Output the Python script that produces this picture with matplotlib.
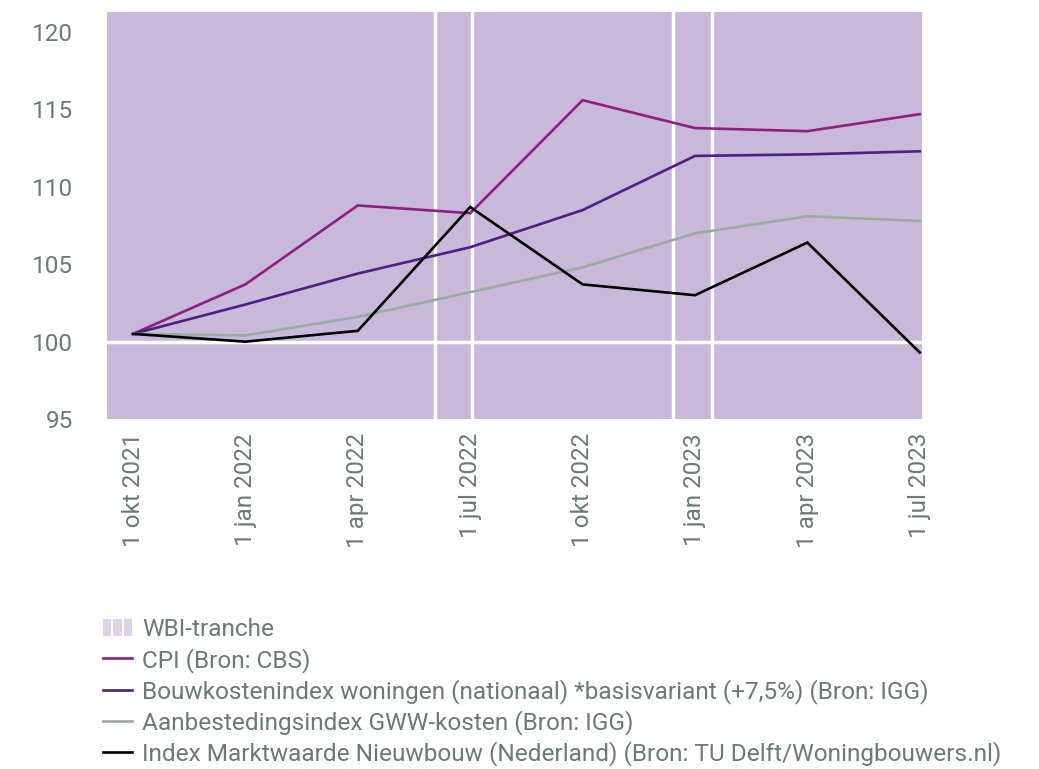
import matplotlib
matplotlib.use("Agg")
import matplotlib.pyplot as plt
from matplotlib.lines import Line2D
from matplotlib.patches import Rectangle
from matplotlib.legend_handler import HandlerBase

plt.rcParams['font.family'] = ['Roboto', 'DejaVu Sans']

dates = ["1 okt 2021", "1 jan 2022", "1 apr 2022", "1 jul 2022",
         "1 okt 2022", "1 jan 2023", "1 apr 2023", "1 jul 2023"]
cpi = [100.5, 103.7, 108.8, 108.3, 115.6, 113.8, 113.6, 114.7]
bouwkosten = [100.5, 102.4, 104.4, 106.1, 108.5, 112.0, 112.1, 112.3]
gww = [100.5, 100.4, 101.6, 103.2, 104.8, 107.0, 108.1, 107.8]
marktwaarde = [100.5, 100.0, 100.7, 108.7, 103.7, 103.0, 106.4, 99.3]

series_labels = ["CPI (Bron: CBS)",
                 "Bouwkostenindex woningen (nationaal) *basisvariant (+7,5%) (Bron: IGG)",
                 "Aanbestedingsindex GWW-kosten (Bron: IGG)",
                 "Index Marktwaarde Nieuwbouw (Nederland) (Bron: TU Delft/Woningbouwers.nl)"]
series_colors = ["#8E1F7E", "#4E1F80", "#9BAA9F", "#000000"]

# WBI-tranche background segments (x range in axis index units)
tranche_bounds = [(-0.234, 2.685), (2.685, 3.018), (3.018, 4.806), (4.806, 5.148), (5.148, 7.02)]
tranche_color = "#C8B9DA"
text_color = "#6B7B73"
fs_tick = 17.5
fs_leg = 17.6

fig = plt.figure(figsize=(10.39, 7.69), dpi=100)
ax = fig.add_axes([0.1027, 0.4551, 0.7847, 0.5293])

ymin, ymax = 95, 121.3
for x0, x1 in tranche_bounds:
    ax.bar(x0, ymax - ymin, width=x1 - x0, bottom=ymin, align='edge',
           color=tranche_color, edgecolor='none', linewidth=0, zorder=1)
for x0, x1 in tranche_bounds[1:]:
    ax.axvline(x0, color='white', linewidth=2.5, zorder=2)
ax.axhline(100, color='white', linewidth=2.5, zorder=2)

x = list(range(len(dates)))
for vals, col in zip([cpi, bouwkosten, gww, marktwaarde], series_colors):
    ax.plot(x, vals, color=col, linewidth=1.9, zorder=3, solid_joinstyle='miter')

ax.set_xlim(-0.234, 7.02)
ax.set_ylim(ymin, ymax)
ax.set_yticks([95, 100, 105, 110, 115, 120])
ax.set_xticks(x)
ax.set_xticklabels(dates, rotation=90, va='top', ha='center')
ax.tick_params(axis='y', length=0, pad=24, labelsize=fs_tick, labelcolor=text_color)
ax.tick_params(axis='x', length=0, pad=10, labelsize=fs_tick, labelcolor=text_color)
for s in ax.spines.values():
    s.set_visible(False)


class TrancheHandler(HandlerBase):
    def create_artists(self, legend, orig_handle, xdescent, ydescent,
                       width, height, fontsize, trans):
        arts = []
        n = 3
        gap = width * 0.06
        w = (width - gap * (n - 1)) / n
        for i in range(n):
            r = Rectangle((-xdescent + i * (w + gap), -ydescent),
                          w, height, facecolor="#DDD3E8", edgecolor='none',
                          transform=trans)
            arts.append(r)
        return arts


tranche_handle = Rectangle((0, 0), 1, 1, facecolor="#DDD3E8")
handles = [tranche_handle] + [Line2D([], [], color=c, linewidth=1.9) for c in series_colors]
labels = ["WBI-tranche"] + series_labels
leg = fig.legend(handles, labels, loc='upper left', bbox_to_anchor=(0.099, 0.196),
                 frameon=False, fontsize=fs_leg, handlelength=1.2, handletextpad=0.42,
                 labelspacing=0.26, borderaxespad=0, borderpad=0,
                 handler_map={Rectangle: TrancheHandler()})
for t in leg.get_texts():
    t.set_color(text_color)

fig.savefig("out.png", dpi=100)
